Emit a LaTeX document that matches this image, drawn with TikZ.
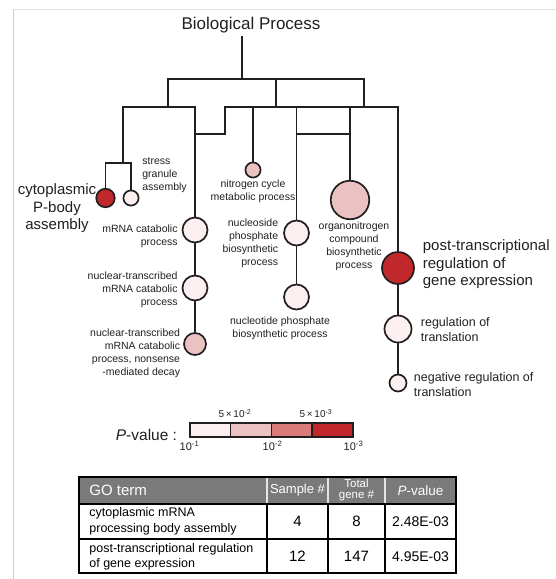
\documentclass[tikz,border=0pt]{standalone}
\usepackage{fontspec}
\setmainfont{Liberation Sans}
\usetikzlibrary{positioning}
\definecolor{gored}{RGB}{192,40,44}
\definecolor{gomid}{RGB}{217,123,123}
\definecolor{gopink}{RGB}{235,194,194}
\definecolor{golight}{RGB}{252,239,239}
\definecolor{goline}{RGB}{35,31,32}
\definecolor{gohead}{RGB}{122,122,122}
\definecolor{goframe}{RGB}{205,205,205}

\begin{document}
\begin{tikzpicture}[x=1pt, y=-1pt, line width=1.8pt, color=goline,
    term/.style = {circle, draw=goline, line width=1.7pt, inner sep=0pt},
    small/.style = {font=\fontsize{10.5}{13}\selectfont, inner sep=0pt},
    big/.style = {font=\fontsize{15}{17.6}\selectfont, inner sep=0pt},
    medium/.style = {font=\fontsize{12.5}{15}\selectfont, inner sep=0pt, anchor=west, align=left},
    tick/.style = {font=\fontsize{10}{11}\selectfont, inner sep=0pt},
    barcell/.style = {draw=goline, line width=1.5pt, minimum width=40.75pt,
      minimum height=14pt, inner sep=0pt, anchor=west},
    cell/.style = {text=black, inner sep=0pt}]
  \useasboundingbox (0,0) rectangle (556,579);
  % frame
  \draw[goframe!60, line width=0.8pt] (13,579) -- (13,9.5) -- (556,9.5);
  \draw[goframe, line width=0.8pt] (13,579) -- (13,9.5);

  % root
  \node[font=\fontsize{17}{20}\selectfont, inner sep=2pt] (root) at (251,25) {Biological Process};

  % terms
  \node[term, fill=gored, minimum size=18.5pt] (pbody) at (105.5,198) {};
  \node[term, fill=golight, minimum size=15.2pt] (stress) at (131,198) {};
  \node[term, fill=golight, minimum size=25pt] (mcat) at (195,230) {};
  \node[term, fill=golight, minimum size=25pt] (nmcat) at (195,288) {};
  \node[term, fill=gopink, minimum size=22pt] (nmd) at (195,344) {};
  \node[term, fill=gopink, minimum size=15.2pt] (nitro) at (253,170) {};
  \node[term, fill=golight, minimum size=25pt] (nside) at (296.5,233) {};
  \node[term, fill=golight, minimum size=25pt] (ntide) at (296.5,297) {};
  \node[term, fill=gopink, minimum size=38.5pt] (organo) at (350,200) {};
  \node[term, fill=gored, minimum size=32pt] (ptrans) at (398,268) {};
  \node[term, fill=golight, minimum size=27pt] (regtr) at (398,329) {};
  \node[term, fill=golight, minimum size=17pt] (negreg) at (398,383) {};

  % junctions
  \coordinate (j0) at (242,79);
  \coordinate (jl) at (168,79);
  \coordinate (jm) at (276,79);
  \coordinate (jr) at (364,79);
  \coordinate (a1) at (122.7,107);
  \coordinate (a2) at (195,107);
  \coordinate (b1) at (195,134);
  \coordinate (b2) at (225,134);
  \coordinate (b3) at (225,107);
  \coordinate (b4) at (398,107);
  \coordinate (c1) at (296.5,134);
  \coordinate (c2) at (350,134);
  \coordinate (d0) at (122.7,162.7);

  % tree
  \draw (j0 |- root.south) -- (j0);
  \draw (jl |- a1) -- (jl) -- (jr) -- (jr |- a1);
  \draw (jm) -- (jm |- a1);
  \draw (d0) -- (a1) -- (a2) -- (mcat);
  \draw (pbody) |- (d0) -| (stress);
  \draw (mcat) -- (nmcat) -- (nmd);
  \draw (b1) -- (b2) -- (b3) -- (b4) -- (ptrans);
  \draw (ptrans) -- (regtr) -- (negreg);
  \draw (nitro) -- (nitro |- b3);
  \draw (nside) -- (nside |- b3);
  \draw (nside) -- (ntide);
  \draw (c1) -- (c2);
  \draw (organo) -- (organo |- b3);

  % labels
  \node[big, align=center] at (57,208.5) {cytoplasmic\\P-body\\assembly};
  \node[small, anchor=west, align=left] at (141.5,175) {stress\\granule\\assembly};
  \node[small, anchor=east, align=right] at (178.5,236) {mRNA catabolic\\process};
  \node[small, anchor=east, align=right] at (178.5,290) {nuclear-transcribed\\mRNA catabolic\\process};
  \node[small, anchor=east, align=right] at (181,353) {nuclear-transcribed\\mRNA catabolic\\process, nonsense\\-mediated decay};
  \node[small, align=center] at (253,191) {nitrogen cycle\\metabolic process};
  \node[small, anchor=east, align=right] at (279,243) {nucleoside\\phosphate\\biosynthetic\\process};
  \node[small, align=center] at (280,328.5) {nucleotide phosphate\\biosynthetic process};
  \node[small, align=center] at (354,246) {organonitrogen\\compound\\biosynthetic\\process};
  \node[big, anchor=west, align=left] at (422,264.5) {post-transcriptional\\regulation of\\gene expression};
  \node[medium] at (420,329.5) {regulation of\\translation};
  \node[medium] at (413,384.5) {negative regulation of\\translation};

  % legend
  \node[font=\fontsize{15.5}{18}\selectfont, inner sep=0pt, anchor=west] (pval) at (115,435) {\textit{P}-value :};
  \foreach \c [count=\i] in {golight,gopink,gomid,gored}
    \node[barcell, fill=\c] (bar\i) at ({189+(\i-1)*40.75},430) {};
  \node[tick] at (235,413.5) {5\,×\,10\textsuperscript{-2}};
  \node[tick] at (316,413.5) {5\,×\,10\textsuperscript{-3}};
  \node[tick, font=\fontsize{11}{12}\selectfont] at (189.5,446) {10\textsuperscript{-1}};
  \node[tick, font=\fontsize{11}{12}\selectfont] at (272.5,446) {10\textsuperscript{-2}};
  \node[tick, font=\fontsize{11}{12}\selectfont] at (353.5,446) {10\textsuperscript{-3}};

  % table
  \fill[gohead] (79,477) rectangle (456,504);
  \draw[white!80!gohead, line width=1.2pt] (267,477) -- (267,504)
    (328,477) -- (328,504) (385,477) -- (385,504);
  \draw[black, line width=1.3pt] (79,504) -- (456,504) (79,539) -- (456,539)
    (267,504) -- (267,573) (328,504) -- (328,573) (385,504) -- (385,573);
  \draw[black, line width=1.5pt] (79,477) rectangle (456,573);
  \node[cell, text=white, anchor=west, font=\fontsize{15}{18}\selectfont] (hgo) at (88.5,490.5) {GO term};
  \node[cell, text=white, font=\fontsize{13}{15}\selectfont] (hsample) at (297.5,490.5) {Sample \#};
  \node[cell, text=white, font=\fontsize{11.5}{11.5}\selectfont, align=center] (htotal) at (356.5,490) {Total\\gene \#};
  \node[cell, text=white, font=\fontsize{13.5}{15}\selectfont] (hpval) at (420.5,490.5) {\textit{P}-value};
  \node[cell, anchor=west, align=left, font=\fontsize{12.5}{15.5}\selectfont] (t1) at (88.5,521.5) {cytoplasmic mRNA\\processing body assembly};
  \node[cell, font=\fontsize{15}{18}\selectfont] at (297.5,521.5) {4};
  \node[cell, font=\fontsize{15}{18}\selectfont] at (356.5,521.5) {8};
  \node[cell, font=\fontsize{14}{17}\selectfont] at (420.5,521.5) {2.48E-03};
  \node[cell, anchor=west, align=left, font=\fontsize{12.5}{15}\selectfont] (t2) at (88.5,556.5) {post-transcriptional regulation\\of gene expression};
  \node[cell, font=\fontsize{15}{18}\selectfont] at (297.5,556.5) {12};
  \node[cell, font=\fontsize{15}{18}\selectfont] at (356.5,556.5) {147};
  \node[cell, font=\fontsize{14}{17}\selectfont] at (420.5,556.5) {4.95E-03};
\end{tikzpicture}
\end{document}
